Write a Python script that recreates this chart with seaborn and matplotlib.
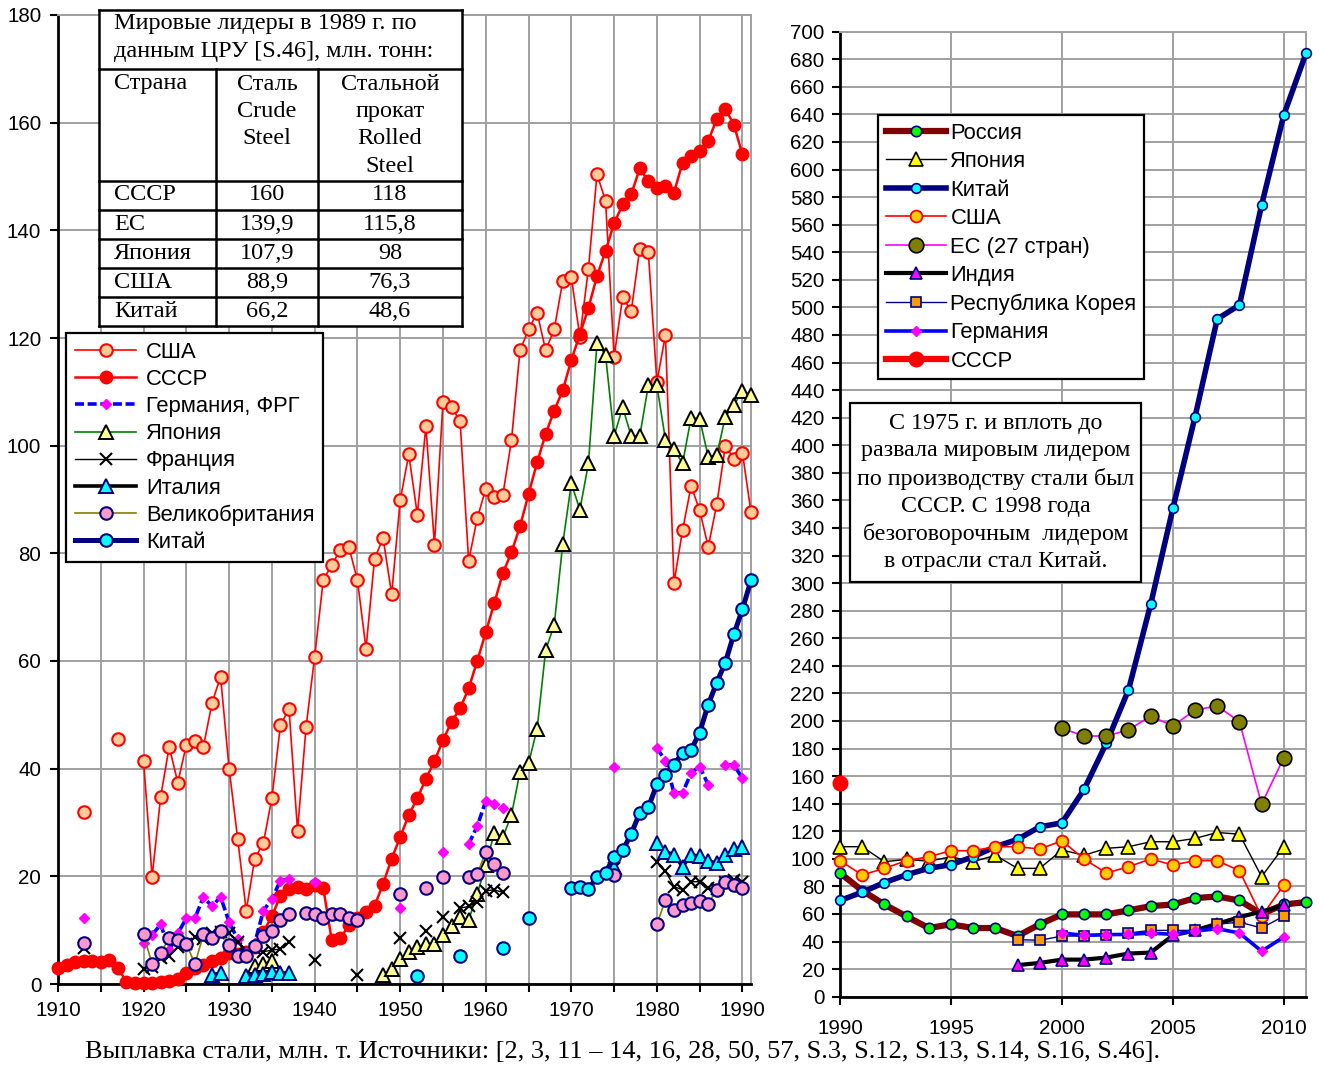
import pandas as pd
import seaborn as sns
import matplotlib.pyplot as plt
from matplotlib.lines import Line2D
from matplotlib.patches import Rectangle

SANS = ['Liberation Sans', 'DejaVu Sans']
SERIF = ['Liberation Serif', 'DejaVu Serif']
plt.rcParams['font.family'] = SANS

# ---------------- left chart data (mln t), 1910-1991 ----------------
usa_years = [1913, 1917] + list(range(1920, 1992))
usa_vals = [31.9, 45.6,
            41.5, 19.9, 34.8, 44.1, 37.4, 44.4, 45.2, 44.1, 52.2, 57.1,
            40.0, 27.0, 13.6, 23.3, 26.2, 34.5, 48.1, 51.1, 28.5, 47.8,
            60.8, 75.0, 77.9, 80.6, 81.2, 75.0, 62.3, 79.0, 82.8, 72.4,
            89.9, 98.4, 87.2, 103.6, 81.6, 108.1, 107.2, 104.5, 78.6, 86.5,
            92.0, 90.5, 90.9, 101.0, 117.7, 121.6, 124.7, 117.7, 121.6, 130.6,
            131.3, 120.2, 132.9, 150.4, 145.5, 116.5, 127.6, 125.0, 136.6, 135.9,
            111.8, 120.6, 74.5, 84.3, 92.5, 88.0, 81.2, 89.1, 99.9, 97.6,
            98.7, 87.6]

ussr_years = list(range(1910, 1991))
ussr_vals = [2.9, 3.5, 4.1, 4.2, 4.3, 4.1, 4.5, 3.0, 0.4, 0.2,
             0.2, 0.2, 0.3, 0.6, 1.0, 2.0, 2.9, 3.6, 4.3, 4.9,
             5.8, 5.6, 5.9, 6.9, 9.7, 12.6, 16.4, 17.7, 18.1, 17.6,
             18.3, 17.9, 8.1, 8.5, 10.9, 12.3, 13.3, 14.5, 18.6, 23.3,
             27.3, 31.4, 34.5, 38.1, 41.4, 45.3, 48.7, 51.2, 54.9, 60.0,
             65.3, 70.8, 76.3, 80.2, 85.0, 91.0, 96.9, 102.2, 106.5, 110.3,
             115.9, 120.7, 125.6, 131.5, 136.2, 141.3, 144.8, 146.7, 151.5, 149.1,
             147.9, 148.3, 147.0, 152.6, 153.8, 154.8, 156.6, 160.7, 162.6, 159.6,
             154.1]

frg_years = ([1913] + list(range(1920, 1938)) + [1940, 1950, 1955]
             + list(range(1958, 1963)) + [1975] + list(range(1980, 1987))
             + [1988, 1989, 1990])
frg_vals = [12.2,
            7.6, 9.1, 11.1, 6.3, 9.4, 12.2, 12.2, 16.2, 14.4, 16.2,
            11.5, 8.3, 5.8, 7.6, 13.6, 15.8, 19.2, 19.5,
            19.0, 14.1, 24.5,
            26.0, 29.3, 34.0, 33.4, 32.7,
            40.4,
            43.8, 41.5, 35.5, 35.5, 39.2, 40.4, 37.0,
            40.7, 40.7, 38.2]

jap_years = [1933, 1934, 1935] + list(range(1948, 1992))
jap_vals = [3.3, 3.8, 4.3,
            1.7, 2.7, 4.6, 6.0, 6.8, 7.4, 7.5, 9.1, 10.8, 12.4, 11.9, 16.7,
            22.1, 28.1, 27.3, 31.4, 39.4, 41.0, 47.4, 62.0, 66.7, 81.8,
            93.0, 88.1, 96.7, 119.1, 116.8, 101.8, 107.1, 101.8, 101.8, 111.2,
            111.2, 101.1, 99.3, 96.7, 105.2, 105.0, 97.9, 98.2, 105.4, 107.5,
            110.2, 109.4]

fra_years = ([1913] + list(range(1920, 1938)) + [1940, 1945, 1950, 1953, 1955]
             + list(range(1957, 1963)) + [1975] + list(range(1980, 1991)))
fra_vals = [6.6,
            2.7, 3.1, 4.8, 5.2, 6.9, 7.4, 8.7, 8.3, 9.5, 9.7,
            9.4, 7.8, 5.6, 6.5, 6.0, 6.3, 6.5, 7.8,
            4.4, 1.7, 8.5, 9.8, 12.5,
            14.1, 14.4, 15.3, 17.3, 17.5, 17.0,
            21.5,
            22.7, 21.0, 18.1, 17.5, 19.0, 19.0, 17.8, 17.7, 19.0, 19.3, 19.0]

ita_years = [1928, 1929] + list(range(1932, 1938)) + [1975] + list(range(1980, 1991))
ita_vals = [1.7, 2.0,
            1.4, 1.7, 1.8, 2.2, 2.0, 2.1,
            21.8,
            26.1, 24.6, 24.0, 21.8, 24.0, 23.7, 22.9, 22.4, 23.9, 25.0, 25.5]

uk_years = ([1913] + list(range(1920, 1938)) + list(range(1939, 1946))
            + [1950, 1953, 1955] + list(range(1958, 1963)) + [1975]
            + list(range(1980, 1991)))
uk_vals = [7.7,
           9.2, 3.7, 5.8, 8.5, 8.2, 7.5, 3.7, 9.2, 8.5, 9.8,
           7.2, 5.2, 5.2, 7.0, 8.9, 9.9, 11.8, 13.0,
           13.1, 13.0, 12.2, 13.0, 13.0, 12.3, 11.8,
           16.7, 17.8, 19.9,
           19.9, 20.4, 24.5, 22.3, 20.7,
           20.2,
           11.1, 15.6, 13.7, 14.7, 15.1, 15.5, 14.9, 17.5, 18.9, 18.4, 17.8]

chn_years = [1952, 1957, 1962, 1965] + list(range(1970, 1992))
chn_vals = [1.4, 5.2, 6.6, 12.2,
            17.8, 18.1, 17.6, 19.9, 20.7, 23.6, 24.8, 27.9, 31.8, 32.8,
            37.1, 38.9, 40.7, 43.0, 43.5, 46.7, 51.9, 56.0, 59.7, 65.0,
            69.6, 75.0]

# ---------------- right chart data (mln t), 1990-2011 ----------------
r_rus_years = list(range(1990, 2012))
r_rus_vals = [89.7, 77.0, 66.9, 58.2, 49.8, 52.5, 49.8, 49.8, 44.0, 52.5,
              59.7, 59.7, 59.7, 62.6, 65.7, 66.9, 71.5, 72.7, 69.8, 60.0,
              66.9, 68.6]
r_jap_years = list(range(1990, 2011))
r_jap_vals = [108.8, 108.8, 97.9, 99.6, 98.3, 101.5, 97.9, 102.6, 93.1, 93.1,
              106.4, 102.6, 107.6, 108.8, 112.4, 112.4, 114.8, 119.1, 117.9, 87.1,
              108.8]
r_chn_years = list(range(1990, 2012))
r_chn_vals = [69.8, 75.8, 82.8, 88.5, 93.1, 95.8, 101.5, 108.8, 114.1, 123.2,
              126.1, 150.4, 183.8, 222.5, 284.6, 354.2, 420.7, 491.6, 501.7, 574.3,
              639.6, 684.3]
r_usa_years = list(range(1990, 2011))
r_usa_vals = [98.7, 88.3, 93.1, 98.7, 101.5, 105.9, 105.9, 108.8, 108.8, 107.1,
              113.1, 99.9, 89.7, 94.3, 99.9, 95.5, 98.7, 98.7, 91.4, 58.2,
              81.1]
r_eu_years = list(range(2000, 2011))
r_eu_vals = [194.7, 189.1, 189.1, 193.5, 203.6, 196.4, 208.0, 210.9, 199.5, 139.6,
             173.4]
r_ind_years = list(range(1998, 2011))
r_ind_vals = [22.9, 24.5, 26.9, 26.9, 28.4, 31.3, 32.0, 44.5, 48.1, 52.9,
              57.7, 61.8, 66.2]
r_kor_years = list(range(1998, 2011))
r_kor_vals = [41.4, 40.9, 44.0, 44.0, 44.5, 46.2, 48.1, 48.1, 48.1, 52.5,
              54.1, 49.8, 58.5]
r_ger_years = list(range(2000, 2011))
r_ger_vals = [46.2, 44.5, 45.0, 45.2, 46.2, 45.2, 47.6, 49.3, 46.2, 33.0, 43.3]
r_ussr_years = [1990]
r_ussr_vals = [154.7]

# ---------------- texts ----------------
left_labels = ['США', 'СССР', 'Германия, ФРГ', 'Япония', 'Франция', 'Италия',
               'Великобритания', 'Китай']
right_labels = ['Россия', 'Япония', 'Китай', 'США', 'ЕС (27 стран)', 'Индия',
                'Республика Корея', 'Германия', 'СССР']
table_title = ['Мировые лидеры в 1989 г. по', 'данным ЦРУ [S.46], млн. тонн:']
table_head = [['Страна'], ['Сталь', 'Crude', 'Steel'],
              ['Стальной', 'прокат', 'Rolled', 'Steel']]
table_country = ['СССР', 'ЕС', 'Япония', 'США', 'Китай']
table_crude = ['160', '139,9', '107,9', '88,9', '66,2']
table_rolled = ['118', '115,8', '98', '76,3', '48,6']
note_lines = ['С 1975 г. и вплоть до', 'развала мировым лидером',
              'по производству стали был', 'СССР. С 1998 года',
              'безоговорочным  лидером', 'в отрасли стал Китай.']
caption = ('Выплавка стали, млн. т. Источники: [2, 3, 11 – 14, 16, 28, 50, 57, '
           'S.3, S.12, S.13, S.14, S.16, S.46].')

# ---------------- styles ----------------
NAVY = '#000080'
left_styles = [
    dict(color='red', lw=1.2, marker='o', ms=9, mfc='#FFCC99', mec='red', mew=1.5),
    dict(color='red', lw=1.8, marker='o', ms=9, mfc='red', mec='red', mew=1),
    dict(color='blue', lw=2.6, ls=(0, (2.5, 1)), marker='D', ms=5, mfc='#FF00FF', mec='#FF00FF', mew=1),
    dict(color='#008000', lw=1.2, marker='^', ms=9.5, mfc='#FFFF99', mec='black', mew=1.4),
    dict(color='black', lw=1, marker='x', ms=9, mfc='black', mec='black', mew=1.5),
    dict(color='black', lw=2.6, marker='^', ms=9.5, mfc='#00FFFF', mec=NAVY, mew=1.4),
    dict(color='#808000', lw=1.2, marker='o', ms=9, mfc='#FF99CC', mec=NAVY, mew=1.5),
    dict(color=NAVY, lw=3.6, marker='o', ms=9, mfc='#00FFFF', mec=NAVY, mew=1.5),
]
left_data = [(usa_years, usa_vals), (ussr_years, ussr_vals), (frg_years, frg_vals),
             (jap_years, jap_vals), (fra_years, fra_vals), (ita_years, ita_vals),
             (uk_years, uk_vals), (chn_years, chn_vals)]

right_styles = [
    dict(color='#800000', lw=4.5, marker='o', ms=7.5, mfc='#00FF00', mec=NAVY, mew=1.2),
    dict(color='black', lw=1, marker='^', ms=9.5, mfc='#FFFF00', mec='black', mew=1.2),
    dict(color=NAVY, lw=4, marker='o', ms=7, mfc='#00FFFF', mec=NAVY, mew=1.2),
    dict(color='red', lw=1.2, marker='o', ms=8.5, mfc='#FFCC00', mec='red', mew=1.3),
    dict(color='#FF00FF', lw=1.2, marker='o', ms=10.5, mfc='#808000', mec='black', mew=1.2),
    dict(color='black', lw=3, marker='^', ms=8.5, mfc='#FF00FF', mec=NAVY, mew=1.2),
    dict(color=NAVY, lw=1, marker='s', ms=7.5, mfc='#FF9900', mec=NAVY, mew=1.2),
    dict(color='blue', lw=2.6, marker='D', ms=5, mfc='#FF00FF', mec='#FF00FF', mew=1),
    dict(color='red', lw=4.5, marker='o', ms=10.5, mfc='red', mec='red', mew=1),
]
right_data = [(r_rus_years, r_rus_vals), (r_jap_years, r_jap_vals), (r_chn_years, r_chn_vals),
              (r_usa_years, r_usa_vals), (r_eu_years, r_eu_vals), (r_ind_years, r_ind_vals),
              (r_kor_years, r_kor_vals), (r_ger_years, r_ger_vals), (r_ussr_years, r_ussr_vals)]


def draw(ax, years, vals, style, z):
    d = pd.DataFrame({'year': years, 'value': vals})
    d['seg'] = (d['year'].diff() != 1).cumsum()
    kw = dict(style)
    sns.lineplot(data=d, x='year', y='value', units='seg', estimator=None,
                 sort=False, ax=ax, clip_on=False, zorder=z,
                 color=kw.pop('color'), linewidth=kw.pop('lw'),
                 linestyle=kw.pop('ls', '-'), marker=kw.pop('marker'),
                 markersize=kw.pop('ms'), markerfacecolor=kw.pop('mfc'),
                 markeredgecolor=kw.pop('mec'), markeredgewidth=kw.pop('mew'))


def handle(style):
    return Line2D([], [], color=style['color'], lw=style['lw'], ls=style.get('ls', '-'),
                  marker=style['marker'], ms=style['ms'], mfc=style['mfc'],
                  mec=style['mec'], mew=style['mew'])


W, H = 1324, 1067
fig = plt.figure(figsize=(W / 100, H / 100), dpi=100)
axL = fig.add_axes([58 / W, 1 - 984 / H, (751 - 58) / W, (984 - 15) / H])
axR = fig.add_axes([840 / W, 1 - 996.7 / H, (1306 - 840) / W, (996.7 - 31.7) / H])

for ax in (axL, axR):
    ax.set_facecolor('white')
    ax.grid(True, color='#a0a0a0', lw=1.4)
    ax.set_axisbelow(True)
    for s in ('top', 'right'):
        ax.spines[s].set_color('#a0a0a0')
        ax.spines[s].set_linewidth(1.4)
    for s in ('left', 'bottom'):
        ax.spines[s].set_color('black')
        ax.spines[s].set_linewidth(2)
    ax.tick_params(direction='out', length=6, width=1.5, labelsize=14.8, color='black')

for i, ((yrs, vals), st) in enumerate(zip(left_data, left_styles)):
    draw(axL, yrs, vals, st, 3 + i)
for i, ((yrs, vals), st) in enumerate(zip(right_data, right_styles)):
    draw(axR, yrs, vals, st, 3 + i)

axL.set_xlim(1910, 1991)
axL.set_ylim(0, 180)
axL.set_xticks(range(1910, 1991, 5))
axL.set_xticklabels([str(y) if y % 10 == 0 else '' for y in range(1910, 1991, 5)])
axL.set_yticks(range(0, 181, 20))
axL.tick_params(axis='x', pad=6)
axL.tick_params(axis='y', pad=6)

axR.set_xlim(1990, 2011)
axR.set_ylim(0, 700)
axR.set_xticks([1990, 1995, 2000, 2005, 2010])
axR.set_yticks(range(0, 701, 20))
axR.tick_params(axis='x', pad=10)
axR.tick_params(axis='y', pad=5)

for ax in (axL, axR):
    ax.set_xlabel('')
    ax.set_ylabel('')

legL = axL.legend([handle(s) for s in left_styles], left_labels,
                  loc='upper left', bbox_to_anchor=(66 / W, 1 - 333 / H),
                  bbox_transform=fig.transFigure, borderaxespad=0, fontsize=15.8,
                  frameon=True, fancybox=False, framealpha=1, edgecolor='black',
                  borderpad=0.4, labelspacing=0.28, handlelength=2.8, handletextpad=0.45)
legL.get_frame().set_linewidth(1.6)
legL.set_zorder(20)

legR = axR.legend([handle(s) for s in right_styles], right_labels,
                  loc='upper left', bbox_to_anchor=(878 / W, 1 - 115 / H),
                  bbox_transform=fig.transFigure, borderaxespad=0, fontsize=15.8,
                  frameon=True, fancybox=False, framealpha=1, edgecolor='black',
                  borderpad=0.35, labelspacing=0.34, handlelength=2.75, handletextpad=0.2)
legR.get_frame().set_linewidth(1.6)
legR.set_zorder(20)


def fline(x0, y0, x1, y1, lw=1.8):
    fig.add_artist(Line2D([x0 / W, x1 / W], [1 - y0 / H, 1 - y1 / H],
                          transform=fig.transFigure, color='black', lw=lw, zorder=30))


def ftext(x, y, s, ha='left', size=17.5):
    fig.text(x / W, 1 - y / H, s, ha=ha, va='center', fontsize=size,
             family=SERIF, zorder=31)


# table of 1989 leaders
fig.add_artist(Rectangle((99 / W, 1 - 326 / H), (462 - 99) / W, (326 - 10) / H,
                         transform=fig.transFigure, fc='white', ec='none', zorder=29))
for yy in [10, 69, 181, 210, 239, 268, 297, 326]:
    fline(99, yy, 462, yy)
fline(99, 10, 99, 326)
fline(462, 10, 462, 326)
fline(216, 69, 216, 326)
fline(318, 69, 318, 326)
for k, s in enumerate(table_title):
    ftext(114, 24 + 28 * k, s)
for k, s in enumerate(table_head[0]):
    ftext(114, 84 + 27.5 * k, s)
for k, s in enumerate(table_head[1]):
    ftext(267, 84 + 27.5 * k, s, ha='center')
for k, s in enumerate(table_head[2]):
    ftext(390, 84 + 27.5 * k, s, ha='center')
for k in range(len(table_country)):
    yy = 195 + 29.2 * k
    ftext(114, yy, table_country[k])
    ftext(267, yy, table_crude[k], ha='center')
    ftext(390, yy, table_rolled[k], ha='center')

# note box on the right chart
fig.add_artist(Rectangle((850 / W, 1 - 582 / H), (1141 - 850) / W, (582 - 403) / H,
                         transform=fig.transFigure, fc='white', ec='black', lw=1.6, zorder=29))
for k, s in enumerate(note_lines):
    ftext(996, 423 + 27.8 * k, s, ha='center', size=17.3)

ftext(623, 1052, caption, ha='center', size=19)

fig.savefig('out.png', dpi=100, facecolor='white')
